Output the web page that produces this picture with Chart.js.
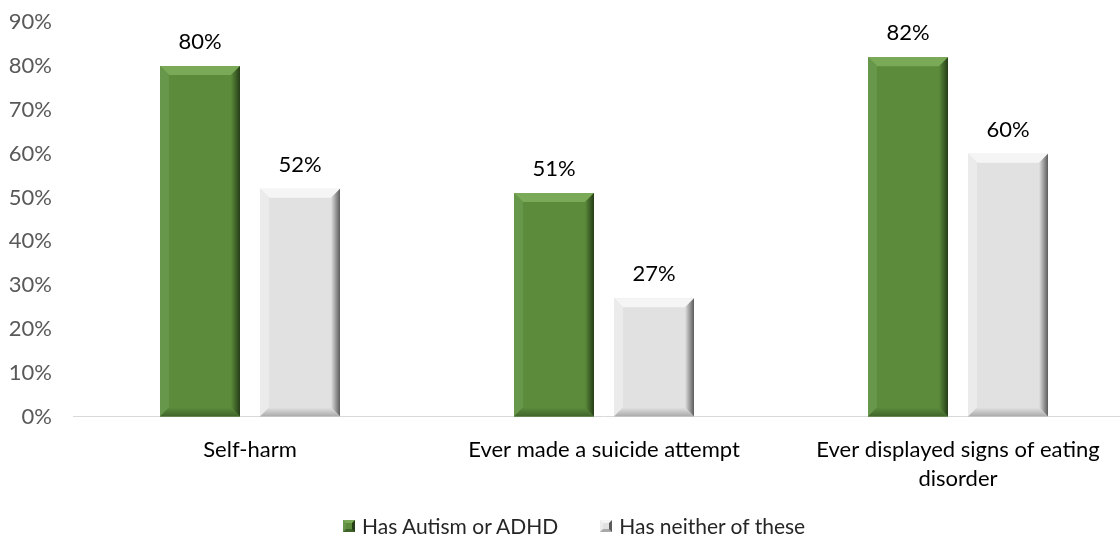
<!DOCTYPE html>
<html>
<head>
<meta charset="utf-8">
<script src="https://cdn.jsdelivr.net/npm/chart.js@4.4.0/dist/chart.umd.min.js"></script>
<style>
  html, body { margin: 0; padding: 0; background: #fff; overflow: hidden; width: 1120px; height: 539px; }
  #wrap { position: absolute; left: 0; top: -12px; width: 1140px; height: 530px; }
  #legend { position: absolute; top: 511px; left: 343px; font-family: Lato, "Open Sans", sans-serif; font-size: 21px; color: #262626; white-space: nowrap; line-height: 26px; }
  #legend span.item { display: inline-flex; align-items: center; margin-right: 42px; }
  #legend span.sw { display: inline-block; width: 12px; height: 12px; margin-right: 7px; box-sizing: border-box; }
</style>
</head>
<body>
<div id="wrap"><canvas id="c"></canvas></div>
<div id="legend"></div>
<script>
const categories = ['Self-harm', 'Ever made a suicide attempt', ['Ever displayed signs of eating', 'disorder']];
const seriesNames = ['Has Autism or ADHD', 'Has neither of these'];
const autismAdhd = [80, 51, 82];
const neither = [52, 27, 60];
const yTicks = [0, 10, 20, 30, 40, 50, 60, 70, 80, 90];

const FONT = 'Lato, "Open Sans", sans-serif';
const palette = [
  { face: '#5b8b3b', top: '#7aa957', left: '#66974a', right: '#263d17', bottom: '#3f6429' },
  { face: '#e1e1e1', top: '#f5f5f5', left: '#ebebeb', right: '#5c5c5c', bottom: '#a9a9a9' }
];

const bevelPlugin = {
  id: 'bevel',
  afterDatasetsDraw(chart) {
    const ctx = chart.ctx;
    chart.data.datasets.forEach((ds, di) => {
      const meta = chart.getDatasetMeta(di);
      const p = palette[di];
      meta.data.forEach((bar) => {
        const L = bar.x - bar.width / 2, R = bar.x + bar.width / 2;
        const T = bar.y, B = bar.base;
        const b = Math.min(9, (B - T) / 2);
        ctx.save();
        ctx.fillStyle = p.face;
        ctx.fillRect(L, T, R - L, B - T);
        ctx.beginPath(); ctx.moveTo(L, T); ctx.lineTo(R, T); ctx.lineTo(R - b, T + b); ctx.lineTo(L + b, T + b); ctx.closePath();
        ctx.fillStyle = p.top; ctx.fill();
        ctx.beginPath(); ctx.moveTo(L, T); ctx.lineTo(L + b, T + b); ctx.lineTo(L + b, B - b); ctx.lineTo(L, B); ctx.closePath();
        ctx.fillStyle = p.left; ctx.fill();
        const g = ctx.createLinearGradient(R - b, 0, R, 0);
        g.addColorStop(0, p.face); g.addColorStop(1, p.right);
        ctx.beginPath(); ctx.moveTo(R, T); ctx.lineTo(R, B); ctx.lineTo(R - b, B - b); ctx.lineTo(R - b, T + b); ctx.closePath();
        ctx.fillStyle = g; ctx.fill();
        const gb = ctx.createLinearGradient(0, B - b, 0, B);
        gb.addColorStop(0, p.face); gb.addColorStop(1, p.bottom);
        ctx.beginPath(); ctx.moveTo(L, B); ctx.lineTo(R, B); ctx.lineTo(R - b, B - b); ctx.lineTo(L + b, B - b); ctx.closePath();
        ctx.fillStyle = gb; ctx.fill();
        ctx.restore();
      });
    });
    ctx.save();
    ctx.font = '22px ' + FONT;
    ctx.fillStyle = '#000';
    ctx.textAlign = 'center';
    ctx.textBaseline = 'bottom';
    chart.data.datasets.forEach((ds, di) => {
      const meta = chart.getDatasetMeta(di);
      meta.data.forEach((bar, i) => {
        ctx.fillText(ds.data[i] + '%', bar.x, bar.y - 13);
      });
    });
    ctx.restore();
  }
};

new Chart(document.getElementById('c'), {
  type: 'bar',
  data: {
    labels: categories,
    datasets: [
      { label: seriesNames[0], data: autismAdhd, backgroundColor: 'rgba(0,0,0,0)', categoryPercentage: 0.565, barPercentage: 0.8 },
      { label: seriesNames[1], data: neither, backgroundColor: 'rgba(0,0,0,0)', categoryPercentage: 0.565, barPercentage: 0.8 }
    ]
  },
  options: {
    responsive: true,
    maintainAspectRatio: false,
    animation: false,
    layout: { padding: { top: 2, right: 5, left: 0, bottom: 6 } },
    plugins: { legend: { display: false }, tooltip: { enabled: false } },
    scales: {
      x: {
        grid: { display: false, drawTicks: false },
        border: { display: true, color: '#d9d9d9', width: 1 },
        ticks: { color: '#000', font: { family: FONT, size: 22, lineHeight: 1.35 }, padding: 18, maxRotation: 0, autoSkip: false }
      },
      y: {
        min: 0, max: 90,
        afterFit(scale) { scale.width = 73; },
        afterBuildTicks(scale) { scale.ticks = yTicks.map(v => ({ value: v })); },
        grid: { display: false, drawTicks: false },
        border: { display: false },
        ticks: { color: '#595959', padding: 21, font: { family: FONT, size: 22 }, callback: v => v + '%' }
      }
    }
  },
  plugins: [bevelPlugin]
});

const legend = document.getElementById('legend');
seriesNames.forEach((name, i) => {
  const item = document.createElement('span');
  item.className = 'item';
  const sw = document.createElement('span');
  sw.className = 'sw';
  sw.style.background = palette[i].face;
  sw.style.borderTop = '3px solid ' + palette[i].top;
  sw.style.borderRight = '3px solid ' + palette[i].right;
  sw.style.borderBottom = '3px solid ' + palette[i].bottom;
  sw.style.borderLeft = '3px solid ' + palette[i].left;
  item.appendChild(sw);
  item.appendChild(document.createTextNode(name));
  legend.appendChild(item);
});
</script>
</body>
</html>
